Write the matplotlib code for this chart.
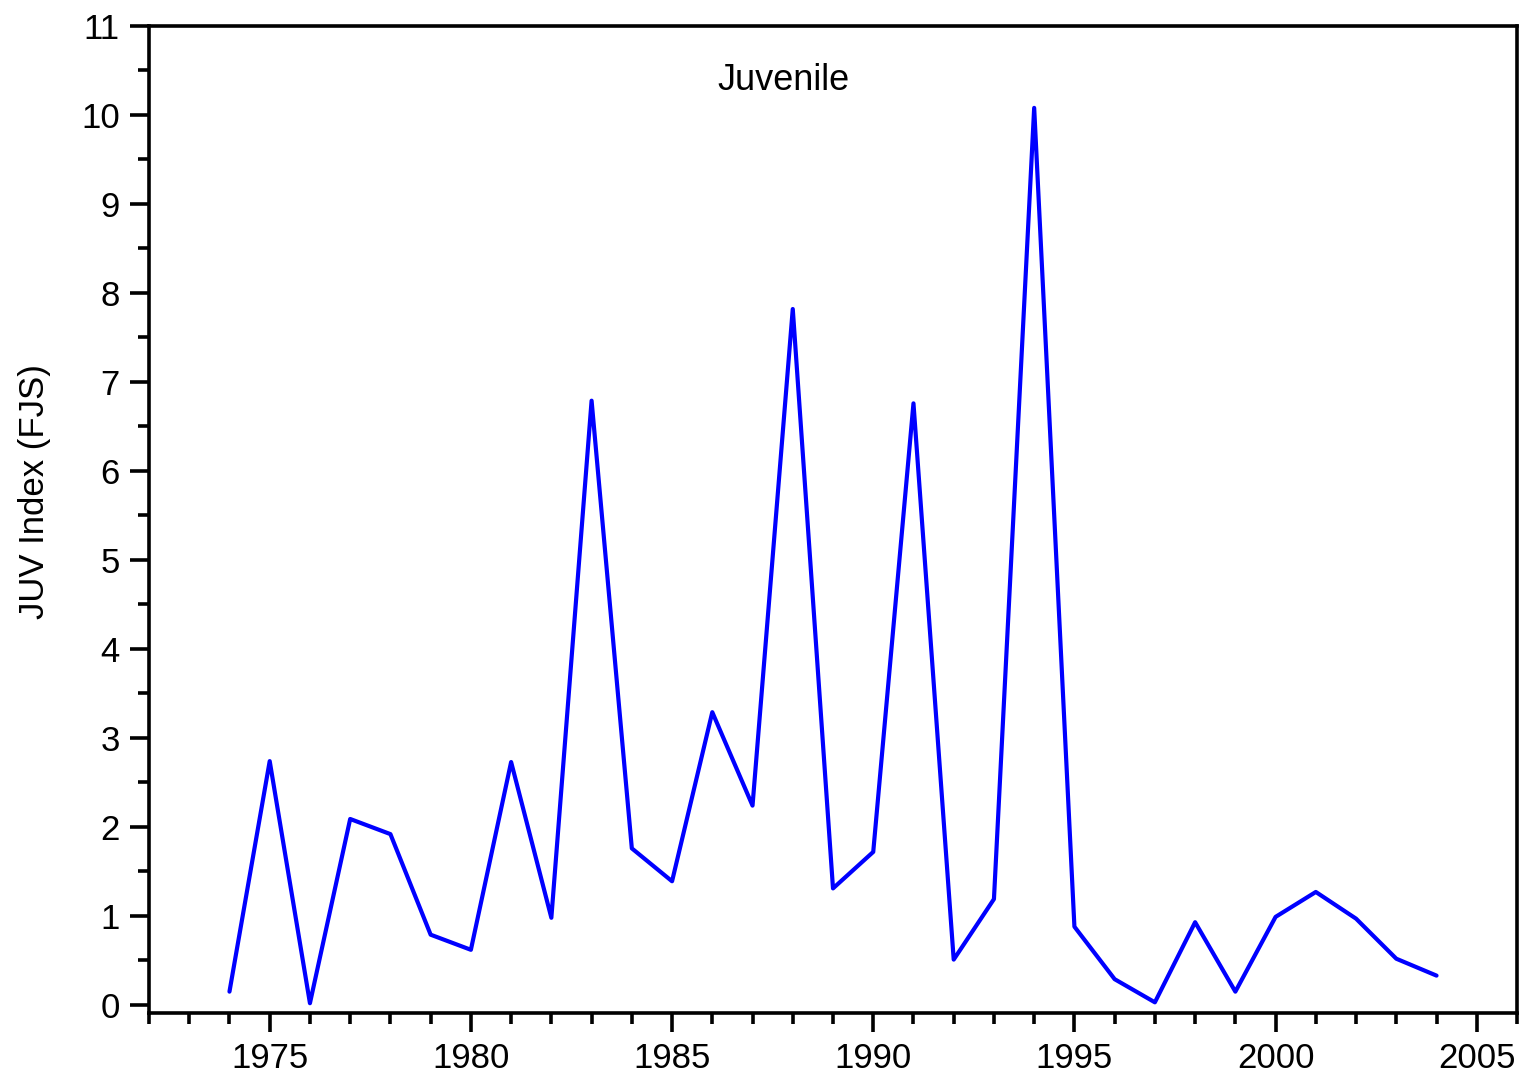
import matplotlib
matplotlib.use("Agg")
import matplotlib.pyplot as plt
from matplotlib.ticker import MultipleLocator

plt.rcParams['font.family'] = ['Liberation Sans', 'DejaVu Sans']

years = list(range(1974, 2005))
juv_index = [0.15, 2.74, 0.02, 2.09, 1.92, 0.79, 0.62, 2.73, 0.98, 6.79,
             1.76, 1.39, 3.29, 2.24, 7.82, 1.31, 1.72, 6.76, 0.51, 1.19,
             10.08, 0.88, 0.29, 0.03, 0.93, 0.15, 0.99, 1.27, 0.97, 0.52,
             0.33]

fig = plt.figure(figsize=(15.27, 10.81), dpi=100)
ax = fig.add_axes([149 / 1527, 1 - 1013 / 1081, 1368 / 1527, 987 / 1081])

ax.plot(years, juv_index, color='#0000FF', linewidth=3.0,
        solid_joinstyle='round', solid_capstyle='round')

ax.set_xlim(1972, 2006)
ax.set_ylim(-0.09, 11)
ax.xaxis.set_major_locator(MultipleLocator(5))
ax.xaxis.set_minor_locator(MultipleLocator(1))
ax.yaxis.set_major_locator(MultipleLocator(1))
ax.yaxis.set_minor_locator(MultipleLocator(0.5))

for s in ax.spines.values():
    s.set_linewidth(2.6)
ax.tick_params(which='major', direction='out', length=14, width=2.6,
               labelsize=25, pad=7)
ax.tick_params(which='minor', direction='out', length=8, width=2.6)

ax.set_ylabel('JUV Index (FJS)', fontsize=25)
ax.yaxis.set_label_coords(-0.072, 0.528)
ax.text(0.4635, 0.945, 'Juvenile', transform=ax.transAxes, fontsize=26,
        ha='center', va='center')

fig.savefig('out.png', dpi=100)
